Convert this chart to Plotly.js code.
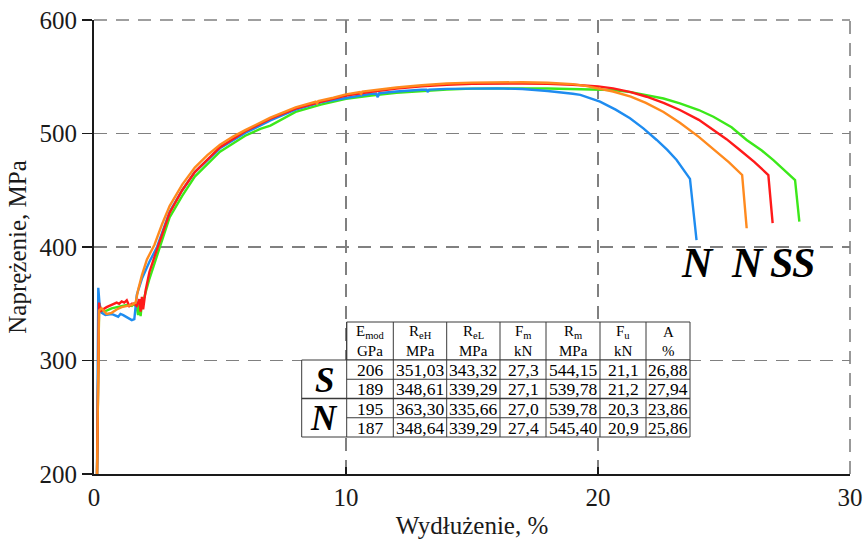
<!DOCTYPE html>
<html>
<head>
<meta charset="utf-8">
<script src="https://cdn.plot.ly/plotly-3.0.1.min.js"></script>
<style>html,body{margin:0;padding:0;background:#fff;}#chart{width:867px;height:540px;}</style>
</head>
<body>
<div id="chart"></div>
<script>
// ---------- DATA ----------
// Green curve (S, A = 27.94 %)
const greenX = [0.12,0.15,0.2,0.3,0.5,0.7,0.9,1.1,1.3,1.5,1.6,1.7,1.75,1.8,1.85,1.9,2.0,2.2,2.62,3.0,3.5,4.0,5.0,6.0,6.6,7.0,8.0,9.0,10.0,11.0,12.0,13.0,14.0,15.0,16.0,17.0,18.0,19.0,20.0,20.6,21.3,21.93,22.6,23.25,24.0,24.58,25.3,25.9,26.5,26.96,27.4,27.82,27.99];
const greenY = [200,270,345,343,344,346,347,348,349,348,350,346,340,349,339,350,356,372,400,426,445,462,484,498,504,507,519,525.5,530.5,533.5,535.8,537.5,538.8,539.5,539.8,539.8,539.6,539.2,538.7,538.3,536.5,534,530.8,526.6,520.7,514.8,505.5,494.3,485,476.6,468,459,422.3];
// Blue curve (N, A = 23.86 %)
const blueX = [0.12,0.15,0.17,0.22,0.3,0.45,0.7,0.96,1.05,1.16,1.3,1.5,1.6,1.65,1.7,1.9,2.2,2.5,3.0,3.5,4.0,5.0,6.0,7.0,8.0,9.0,10.0,11.0,11.2,11.26,11.32,12.0,13.0,13.2,13.25,13.3,14.0,15.0,16.0,17.0,18.0,19.0,19.3,20.08,20.7,21.27,21.8,22.33,22.75,23.12,23.65,23.91];
const blueY = [200,280,364,350,342,340,341,338.6,341,340,338,335.6,336.5,350,358,372,387,400,431,450,466,487,500.5,511.5,521,527.5,531.5,535,535.3,532,535.5,537,538.5,538.5,536.5,538.7,539.3,539.7,539.8,539.2,537.5,535,534,528,521,513.4,504.5,494.3,485.5,476.6,460,406];
// Red curve (S, A = 26.88 %)
const redX = [0.12,0.15,0.2,0.25,0.35,0.5,0.7,0.9,1.0,1.1,1.2,1.3,1.4,1.5,1.6,1.7,1.8,1.85,1.9,1.95,2.05,2.2,2.5,3.0,3.5,4.0,5.0,6.0,7.0,8.0,9.0,10.0,11.0,12.0,13.0,14.0,15.0,16.0,17.0,18.0,19.0,20.0,20.6,21.3,21.93,22.6,23.25,24.0,24.58,25.1,25.63,26.2,26.76,26.93];
const redY = [200,275,351,343,345,347,349,351,350,352,351,353,348,350,350,348,354,343,356,345,362,378,398,430,450,466,488,502,513,522,528,533.5,536.8,539.5,541.5,543,543.8,544.1,544.1,543.8,543,541.5,539.8,536.5,532.4,527,520.7,512,503,495,485.5,475,463.4,421];
// Orange curve (N, A = 25.86 %)
const orangeX = [0.12,0.15,0.2,0.3,0.5,0.7,0.9,1.1,1.3,1.5,1.65,1.75,1.9,2.1,2.4,2.7,3.0,3.5,4.0,4.5,5.0,5.5,6.0,7.0,8.0,8.8,8.85,8.9,9.5,10.0,10.55,10.6,10.65,11.0,12.0,13.0,14.0,15.0,16.0,17.0,18.0,19.0,19.5,20.0,20.6,21.3,21.9,22.6,23.25,24.0,24.6,25.2,25.72,25.9];
const orangeY = [200,275,344,346,341,342,345,347,348,349,351,362,375,389,402,420,436,455,470,481,490,497,503,514,523,528,526.5,528.5,531.5,534.5,536.5,535,537,538,540.5,542.5,544,544.8,545.2,545.2,544.7,543.5,542,540,537,532.5,527,519,509.5,497,485.5,474.5,463.5,416.5];

// Labels under the curve ends
const endLabels = ['N','N','S','S'];
const endLabelX = [23.93,25.92,27.28,28.15];
const endLabelY = [386,386,386,386];

// Table
const tableHead = ['E<sub>mod</sub>','R<sub>eH</sub>','R<sub>eL</sub>','F<sub>m</sub>','R<sub>m</sub>','F<sub>u</sub>','A'];
const tableUnits = ['GPa','MPa','MPa','kN','MPa','kN','%'];
const groupNames = ['S','N'];
const rowsS = [
  ['206','351,03','343,32','27,3','544,15','21,1','26,88'],
  ['189','348,61','339,29','27,1','539,78','21,2','27,94']
];
const rowsN = [
  ['195','363,30','335,66','27,0','539,78','20,3','23,86'],
  ['187','348,64','339,29','27,4','545,40','20,9','25,86']
];

// ---------- LAYOUT ----------
const PL = 94, PR = 850, PT = 20, PB = 474;
const px2x = p => (p - PL) / (PR - PL);
const py2y = p => (PB - p) / (PB - PT);
const serif = 'Liberation Serif, Times New Roman, serif';

const traces = [
  {x: greenX, y: greenY, color: '#3ce81a'},
  {x: blueX, y: blueY, color: '#1e8cf0'},
  {x: redX, y: redY, color: '#ff1a1a'},
  {x: orangeX, y: orangeY, color: '#ff8a1e'}
].map(t => ({x: t.x, y: t.y, type: 'scatter', mode: 'lines',
  line: {color: t.color, width: 2.4}, hoverinfo: 'skip', showlegend: false}));

const shapes = [];
const annotations = [];
const lineCol = '#3a3a3a';

// top & right dashed frame (grid at range ends)
shapes.push({type:'line', xref:'paper', yref:'paper', x0:0, x1:1, y0:1, y1:1, line:{color:'#808080', width:1.6, dash:'13px,9px'}, layer:'below'});
shapes.push({type:'line', xref:'paper', yref:'paper', x0:1, x1:1, y0:0, y1:1, line:{color:'#808080', width:1.6, dash:'13px,9px'}, layer:'below'});

// table geometry
const colW = [46.6,53.4,53.3,46,54,46,44];
const labelLeft = 301.7, tableLeft = 346.7;
const headTop = 322, headBot = 360, rowH = 19.25;
const edges = [tableLeft];
colW.forEach(w => edges.push(edges[edges.length-1] + w));
const tableRight = edges[edges.length-1];
const allRows = rowsS.concat(rowsN);
const bodyBot = headBot + rowH * allRows.length;

const rect = (x0,y0,x1,y1) => ({type:'rect', xref:'paper', yref:'paper',
  x0:px2x(x0), x1:px2x(x1), y0:py2y(y1), y1:py2y(y0),
  fillcolor:'#ffffff', line:{color:lineCol, width:1}});
const hline = (x0,x1,y,w) => ({type:'line', xref:'paper', yref:'paper',
  x0:px2x(x0), x1:px2x(x1), y0:py2y(y), y1:py2y(y), line:{color:lineCol, width:w||1}});
const vline = (x,y0,y1) => ({type:'line', xref:'paper', yref:'paper',
  x0:px2x(x), x1:px2x(x), y0:py2y(y0), y1:py2y(y1), line:{color:lineCol, width:1}});

shapes.push(rect(tableLeft, headTop, tableRight, headBot));
shapes.push(rect(labelLeft, headBot, tableRight, bodyBot));
for (let i = 1; i < edges.length - 1; i++) shapes.push(vline(edges[i], headTop, bodyBot));
shapes.push(vline(tableLeft, headTop, bodyBot));
allRows.forEach((r, i) => {
  if (i === 0) return;
  const y = headBot + rowH * i;
  const full = (i % rowsS.length === 0);
  shapes.push(hline(full ? labelLeft : tableLeft, tableRight, y, full ? 1.3 : 1));
});

const txt = (text, cx, cy, size, extra) => Object.assign({
  text: text, xref:'paper', yref:'paper', x:px2x(cx), y:py2y(cy),
  xanchor:'center', yanchor:'middle', showarrow:false, borderpad:0,
  font:{family:serif, size:size, color:'#000'}
}, extra || {});

tableHead.forEach((h, j) => {
  const cx = (edges[j] + edges[j+1]) / 2;
  annotations.push(txt(h, cx, headTop + 10, 15));
  annotations.push(txt(tableUnits[j], cx, headTop + 28.5, 15));
});
allRows.forEach((r, i) => {
  const cy = headBot + rowH * (i + 0.5);
  r.forEach((v, j) => {
    const cx = (edges[j] + edges[j+1]) / 2;
    annotations.push(txt(v, cx, cy + 0.5, 17.5));
  });
});
groupNames.forEach((g, k) => {
  const cy = headBot + rowH * rowsS.length * (k + 0.5);
  annotations.push(txt(g, (labelLeft + tableLeft) / 2, cy + 1, 35,
    {font:{family:serif, size:35, color:'#000', weight:'bold', style:'italic'}}));
});

// labels near curve ends
endLabels.forEach((l, i) => {
  annotations.push({text:l, x:endLabelX[i], y:endLabelY[i], xref:'x', yref:'y',
    xanchor:'center', yanchor:'middle', showarrow:false,
    font:{family:serif, size:42, color:'#000', weight:'bold', style:'italic'}});
});

const layout = {
  width: 867, height: 540,
  margin: {l: PL, r: 867 - PR, t: PT, b: 540 - PB, pad: 0},
  paper_bgcolor: '#fff', plot_bgcolor: '#fff',
  showlegend: false,
  xaxis: {
    range: [0, 30], tickvals: [0, 10, 20, 30], ticktext: ['0','10','20','30'],
    showgrid: true, gridcolor: '#808080', gridwidth: 1.6, griddash: '13px,9px',
    zeroline: false, showline: true, linecolor: '#1a1a1a', linewidth: 2,
    ticks: 'inside', ticklen: 7, tickwidth: 1.6, tickcolor: '#1a1a1a',
    tickfont: {family: serif, size: 25, color: '#1a1a1a'},
    title: {text: 'Wydłużenie, %', font: {family: serif, size: 25, color: '#1a1a1a'}, standoff: 6}
  },
  yaxis: {
    range: [200, 600], tickvals: [200, 300, 400, 500, 600],
    showgrid: true, gridcolor: '#808080', gridwidth: 1.6, griddash: '13px,9px',
    zeroline: false, showline: true, linecolor: '#1a1a1a', linewidth: 2,
    ticks: 'outside', ticklen: 10, tickwidth: 1.6, tickcolor: '#1a1a1a',
    tickfont: {family: serif, size: 25, color: '#1a1a1a'},
    title: {text: 'Naprężenie, MPa', font: {family: serif, size: 25, color: '#1a1a1a'}, standoff: 6}
  },
  shapes: shapes,
  annotations: annotations
};

Plotly.newPlot('chart', traces, layout, {displayModeBar: false, staticPlot: true});
</script>
</body>
</html>
